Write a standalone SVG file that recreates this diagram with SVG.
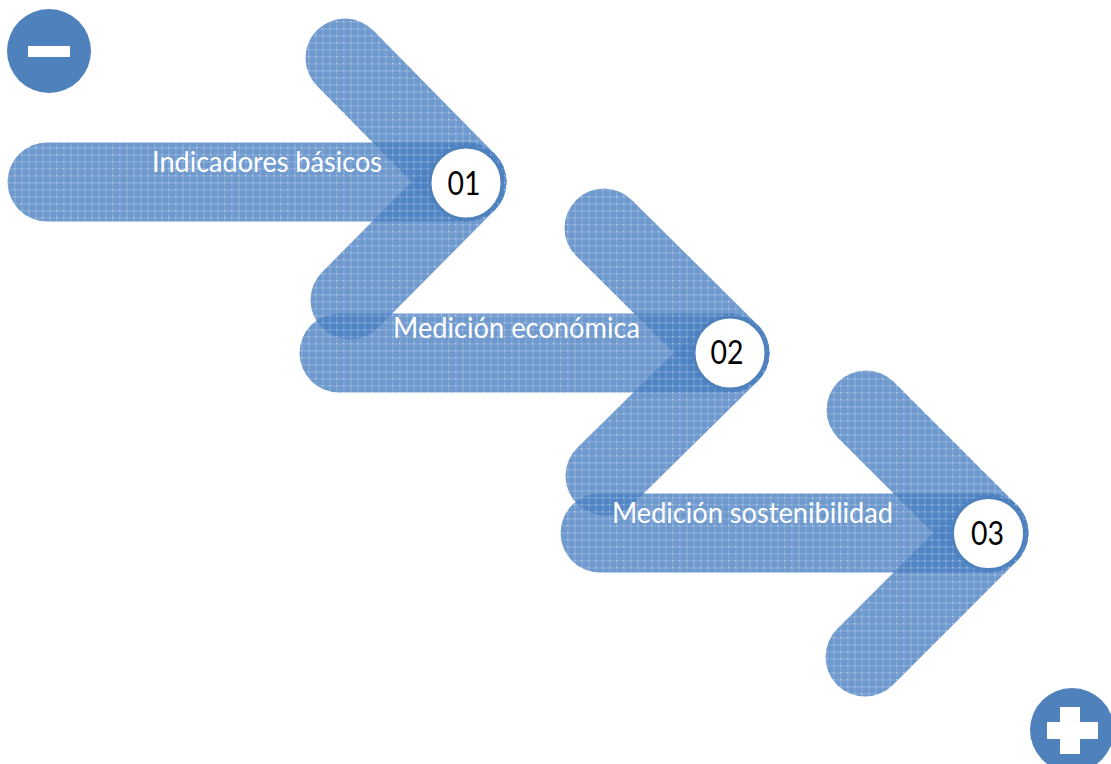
<svg xmlns="http://www.w3.org/2000/svg" width="1111" height="764" viewBox="0 0 1111 764">
  <defs>
    <!-- fine woven texture used on every band -->
    <pattern id="grid" width="7" height="7" patternUnits="userSpaceOnUse">
      <rect width="7" height="7" fill="#4a7fc2"/>
      <rect x="0" y="0" width="7" height="2" fill="#ffffff" fill-opacity="0.10"/>
      <rect x="0" y="0" width="2" height="7" fill="#ffffff" fill-opacity="0.10"/>
      <rect x="0" y="0" width="1" height="1" fill="#ffffff" fill-opacity="0.4"/>
    </pattern>
  </defs>
  <style>
    .band { stroke: url(#grid); stroke-width: 79; stroke-linecap: round; fill: none; opacity: 0.8; }
    .label { font-family: Lato, "Open Sans", "Liberation Sans", sans-serif; font-size: 28px; fill: #ffffff; }
    .badge { fill: #ffffff; stroke: #4f81bd; stroke-width: 3; }
    .num { font-family: Lato, "Open Sans", "Liberation Sans", sans-serif; font-size: 32px; fill: #000000; text-anchor: middle; }
    .icon { fill: #4f81bd; }
  </style>

  <rect width="1111" height="764" fill="#ffffff"/>

  <!-- zoom out control -->
  <g id="minus-button">
    <circle class="icon" cx="49" cy="51" r="42"/>
    <rect x="28" y="46" width="42" height="11" fill="#ffffff"/>
  </g>

  <!-- step 1 -->
  <g id="step-01">
    <line class="band" x1="47" y1="182" x2="467" y2="182"/>
    <line class="band" x1="345" y1="58" x2="467" y2="182"/>
    <line class="band" x1="467" y1="182" x2="350" y2="300"/>
    <text class="label" x="152" y="172" textLength="230" lengthAdjust="spacingAndGlyphs">Indicadores básicos</text>
    <circle class="badge" cx="466" cy="183" r="36"/>
    <text class="num" x="464" y="195" textLength="33" lengthAdjust="spacingAndGlyphs">01</text>
  </g>

  <!-- step 2 -->
  <g id="step-02">
    <line class="band" x1="339" y1="353" x2="730" y2="353"/>
    <line class="band" x1="604" y1="228" x2="730" y2="353"/>
    <line class="band" x1="730" y1="353" x2="605" y2="476"/>
    <text class="label" x="393" y="338" textLength="247" lengthAdjust="spacingAndGlyphs">Medición económica</text>
    <circle class="badge" cx="730" cy="353" r="36"/>
    <text class="num" x="727" y="364" textLength="33" lengthAdjust="spacingAndGlyphs">02</text>
  </g>

  <!-- step 3 -->
  <g id="step-03">
    <line class="band" x1="600" y1="533" x2="989" y2="533"/>
    <line class="band" x1="866" y1="410" x2="989" y2="533"/>
    <line class="band" x1="989" y1="533" x2="865" y2="657"/>
    <text class="label" x="612" y="523" textLength="281" lengthAdjust="spacingAndGlyphs">Medición sostenibilidad</text>
    <circle class="badge" cx="988.5" cy="533.5" r="36"/>
    <text class="num" x="987.5" y="545" textLength="33" lengthAdjust="spacingAndGlyphs">03</text>
  </g>

  <!-- zoom in control -->
  <g id="plus-button">
    <circle class="icon" cx="1072" cy="730" r="42"/>
    <rect x="1060" y="707" width="20" height="47" fill="#ffffff"/>
    <rect x="1047" y="722" width="51" height="17" fill="#ffffff"/>
  </g>
</svg>
